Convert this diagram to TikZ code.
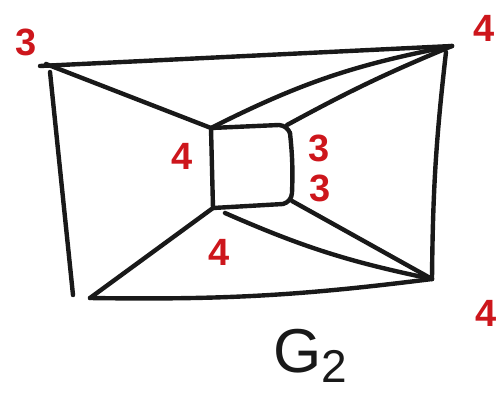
\documentclass[tikz,border=0pt]{standalone}
\usepackage{fontspec}
\setmainfont{Liberation Sans}
\definecolor{hred}{RGB}{205,22,28}
\definecolor{hink}{RGB}{25,25,25}
\begin{document}
\begin{tikzpicture}[x=1pt,y=-1pt,
  edge/.style={line width=4.4pt, line cap=round, line join=round, draw=hink},
  lbl/.style={text=hred, inner sep=0pt, font=\fontsize{38}{38}\selectfont\bfseries},
  title/.style={text=hink, inner sep=0pt, font=\fontsize{62}{62}\selectfont}]
\useasboundingbox (0,0) rectangle (497,396);
% vertices
\coordinate (TL) at (46,64);
\coordinate (TR) at (452,46);
\coordinate (BR) at (432,279);
\coordinate (BL) at (90,298);
\coordinate (A) at (211,128);
\coordinate (B) at (287,125);
\coordinate (C) at (292,201);
\coordinate (D) at (213,208);
% outer frame
\draw[edge] ([shift={(-6,2)}]TL) -- (TR);
\draw[edge] ([shift={(4,8)}]TL) -- ([shift={(-17,-3)}]BL);
\draw[edge] (BL) to[bend right=4] (BR);
\draw[edge] ([shift={(-6,6)}]TR) to[bend right=3] (BR);
% spokes
\draw[edge] (TL) -- (A);
\draw[edge] (A) to[bend left=8] (TR);
\draw[edge] (B) to[bend left=3] (TR);
\draw[edge] (D) -- (BL);
\draw[edge] ([shift={(12,5)}]D) to[bend right=6] (BR);
\draw[edge] (C) -- (BR);
% inner square
\draw[edge] (A) -- ([shift={(-8,0)}]B) to[bend left=30] ([shift={(3,8)}]B);
\draw[edge] ([shift={(3,8)}]B) to[bend left=4] ([shift={(0,-8)}]C) to[bend left=35] ([shift={(-9,3)}]C) -- (D);
\draw[edge] (D) -- (A);
% labels
\node[lbl] (lTL) at (26,42) {3};
\node[lbl] (lTR) at (484,28) {4};
\node[lbl] (lBR) at (486,313) {4};
\node[lbl] (lA) at (182,156) {4};
\node[lbl] (lB) at (319,148) {3};
\node[lbl] (lC) at (320,188) {3};
\node[lbl] (lD) at (219,252) {4};
\node[title] (g2) at (310,356) {G\raisebox{-10pt}{\fontsize{46}{46}\selectfont 2}};
\end{tikzpicture}
\end{document}
